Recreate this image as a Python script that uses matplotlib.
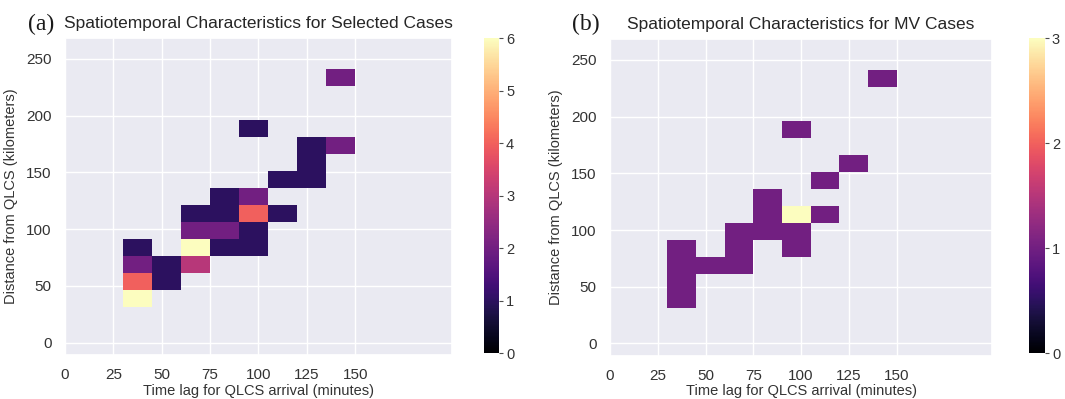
import numpy as np
import matplotlib
matplotlib.use("Agg")
import matplotlib.pyplot as plt
import seaborn as sns

# bin edges (minutes / kilometers)
lag_edges = [30, 45, 60, 75, 90, 105, 120, 135, 150]
dist_edges = [31, 46, 61, 76, 91, 106, 121, 136, 151, 166, 181, 196, 211, 226, 241]

# selected cases: lower-left corner of each occupied bin and its count
sel_lag = [30, 30, 30, 30, 45, 45, 60, 60, 60, 60, 75, 75, 75, 75,
           90, 90, 90, 90, 90, 105, 105, 120, 120, 120, 135, 135]
sel_dist = [31, 46, 61, 76, 46, 61, 61, 76, 91, 106, 76, 91, 106, 121,
            76, 91, 106, 121, 181, 106, 136, 136, 151, 166, 166, 226]
sel_count = [6, 4, 2, 1, 1, 1, 3, 6, 2, 1, 1, 2, 1, 1,
             1, 1, 4, 2, 1, 1, 1, 1, 1, 1, 2, 2]

# MV cases
mv_lag = [30, 30, 30, 30, 45, 60, 60, 60, 75, 75, 75,
          90, 90, 90, 90, 105, 105, 120, 135]
mv_dist = [31, 46, 61, 76, 61, 61, 76, 91, 91, 106, 121,
           76, 91, 106, 181, 106, 136, 151, 226]
mv_count = [1, 1, 1, 1, 1, 1, 1, 1, 1, 1, 1,
            1, 1, 3, 1, 1, 1, 1, 1]

xticks = [0, 25, 50, 75, 100, 125, 150]
yticks = [0, 50, 100, 150, 200, 250]


def to_grid(lags, dists, counts):
    grid = np.zeros((len(dist_edges) - 1, len(lag_edges) - 1))
    for x, y, c in zip(lags, dists, counts):
        grid[dist_edges.index(y), lag_edges.index(x)] = c
    return np.ma.masked_equal(grid, 0)


sns.set_theme(style="darkgrid")
plt.rcParams['font.family'] = ['Liberation Sans', 'DejaVu Sans']

fig = plt.figure(figsize=(10.65, 3.99), dpi=100)

panels = [
    ("(a)", "Spatiotemporal Characteristics for Selected Cases",
     to_grid(sel_lag, sel_dist, sel_count), 6,
     [0.061, 0.110, 0.3634, 0.795], [0.4545, 0.115, 0.0141, 0.789], 0.026),
    ("(b)", "Spatiotemporal Characteristics for MV Cases",
     to_grid(mv_lag, mv_dist, mv_count), 3,
     [0.5728, 0.108, 0.3587, 0.7945], [0.9662, 0.115, 0.015, 0.789], 0.537),
]

for tag, title, grid, vmax, ax_pos, cb_pos, tag_x in panels:
    ax = fig.add_axes(ax_pos)
    mesh = ax.pcolormesh(lag_edges, dist_edges, grid, cmap="magma",
                         vmin=0, vmax=vmax, zorder=2)
    ax.set_xlim(0, 200)
    ax.set_ylim(-11, 268.5)
    ax.set_xticks(xticks)
    ax.set_yticks(yticks)
    ax.tick_params(labelsize=11, colors='.2')
    ax.set_xlabel("Time lag for QLCS arrival (minutes)", fontsize=10.5,
                  color='.2', labelpad=1)
    ax.set_ylabel("Distance from QLCS (kilometers)", fontsize=10.5,
                  color='.2', labelpad=6)
    ax.set_title(title, fontsize=12.5, color='.15', pad=7)
    fig.text(tag_x, 0.925, tag, family=['Liberation Serif', 'DejaVu Serif'],
             fontsize=17, color='.1')

    cax = fig.add_axes(cb_pos)
    cb = fig.colorbar(mesh, cax=cax)
    cb.outline.set_visible(False)
    cb.set_ticks(range(vmax + 1))
    cax.tick_params(right=True, length=3, width=0.8, color='.3',
                    labelsize=10.5, labelcolor='.2', pad=2)

fig.savefig("out.png", dpi=100)
